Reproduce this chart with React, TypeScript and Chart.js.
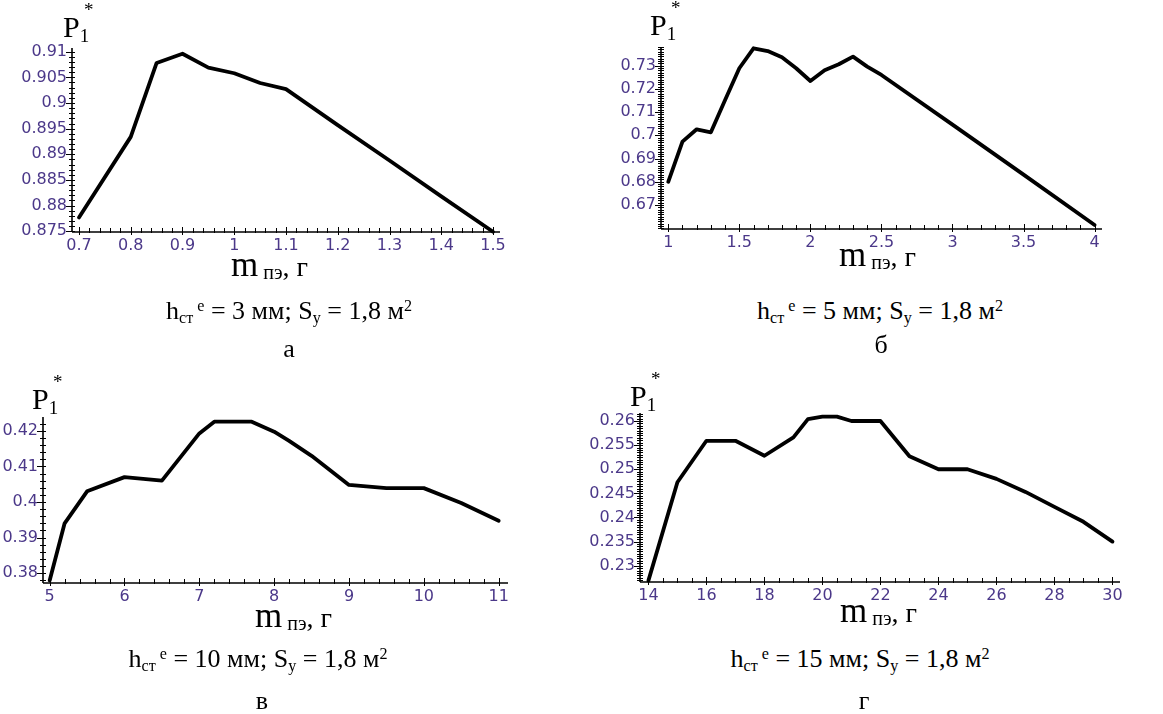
import React, { useEffect, useRef } from "react";
import { Chart, registerables } from "chart.js";

Chart.register(...registerables);

// ---------------- data ----------------
// panel а : h = 3 мм
const massA = [0.7, 0.8, 0.85, 0.9, 0.95, 1.0, 1.05, 1.1, 1.2, 1.3, 1.4, 1.5];
const probA = [0.8777, 0.8934, 0.9078, 0.9096, 0.9069, 0.9058, 0.9039, 0.9027, 0.8957, 0.8888, 0.8818, 0.8749];
const xTicksA = [0.7, 0.8, 0.9, 1, 1.1, 1.2, 1.3, 1.4, 1.5];
const yTicksA = [0.875, 0.88, 0.885, 0.89, 0.895, 0.9, 0.905, 0.91];

// panel б : h = 5 мм
const massB = [1.0, 1.1, 1.2, 1.3, 1.4, 1.5, 1.6, 1.7, 1.8, 1.9, 2.0, 2.1, 2.2, 2.3, 2.4, 2.5, 3.0, 3.5, 4.0];
const probB = [0.680, 0.6973, 0.7026, 0.7013, 0.7152, 0.7289, 0.7375, 0.7363, 0.7336, 0.7289, 0.7234, 0.728, 0.7306, 0.7339, 0.7296, 0.726, 0.7046, 0.6831, 0.6614];
const xTicksB = [1, 1.5, 2, 2.5, 3, 3.5, 4];
const yTicksB = [0.67, 0.68, 0.69, 0.7, 0.71, 0.72, 0.73];

// panel в : h = 10 мм
const massC = [5.0, 5.2, 5.5, 6.0, 6.5, 7.0, 7.2, 7.5, 7.7, 8.0, 8.2, 8.5, 9.0, 9.5, 10.0, 10.5, 11.0];
const probC = [0.3779, 0.394, 0.403, 0.407, 0.406, 0.4193, 0.4226, 0.4226, 0.4226, 0.4198, 0.4172, 0.413, 0.4048, 0.4039, 0.4039, 0.3997, 0.3947];
const xTicksC = [5, 6, 7, 8, 9, 10, 11];
const yTicksC = [0.38, 0.39, 0.4, 0.41, 0.42];

// panel г : h = 15 мм
const massD = [14, 15, 16, 17, 18, 19, 19.5, 20, 20.5, 21, 22, 23, 24, 25, 26, 27, 28, 29, 30];
const probD = [0.2269, 0.2473, 0.2559, 0.2559, 0.2528, 0.2566, 0.2604, 0.2609, 0.2609, 0.26, 0.26, 0.2527, 0.25, 0.25, 0.248, 0.2453, 0.2422, 0.2391, 0.235];
const xTicksD = [14, 16, 18, 20, 22, 24, 26, 28, 30];
const yTicksD = [0.23, 0.235, 0.24, 0.245, 0.25, 0.255, 0.26];

const thicknessLabels = ["3", "5", "10", "15"];
const panelLetters = ["а", "б", "в", "г"];

// ---------------- layout / style ----------------
const SERIF = '"Liberation Serif", "Times New Roman", serif';
const TICK_COLOR = "#4b3889";

type Spec = {
  xs: number[]; ys: number[];
  xTicks: number[]; yTicks: number[];
  xMinor: number; yMinor: number;
  xMin: number; xMax: number; yMin: number; yMax: number;
  box: { x: number; y: number; w: number; h: number };
  area: { l: number; t: number; r: number; b: number };
};

const specs: Spec[] = [
  {
    xs: massA, ys: probA, xTicks: xTicksA, yTicks: yTicksA, xMinor: 0.02, yMinor: 0.001,
    xMin: 0.6865, xMax: 1.5135, yMin: 0.87486, yMax: 0.91072,
    box: { x: 0, y: 0, w: 560, h: 270 }, area: { l: 72, t: 48, r: 500, b: 232 },
  },
  {
    xs: massB, ys: probB, xTicks: xTicksB, yTicks: yTicksB, xMinor: 0.1, yMinor: 0.001,
    xMin: 0.949, xMax: 4.052, yMin: 0.65966, yMax: 0.73805,
    box: { x: 590, y: 0, w: 573, h: 270 }, area: { l: 661, t: 47, r: 1102, b: 229 },
  },
  {
    xs: massC, ys: probC, xTicks: xTicksC, yTicks: yTicksC, xMinor: 0.2, yMinor: 0.002,
    xMin: 4.911, xMax: 11.125, yMin: 0.37719, yMax: 0.42393,
    box: { x: 0, y: 370, w: 560, h: 250 }, area: { l: 43, t: 417, r: 508, b: 583 },
  },
  {
    xs: massD, ys: probD, xTicks: xTicksD, yTicks: yTicksD, xMinor: 0.5, yMinor: 0.0005,
    xMin: 13.71, xMax: 30.26, yMin: 0.22662, yMax: 0.26166,
    box: { x: 590, y: 370, w: 573, h: 250 }, area: { l: 640, t: 413, r: 1120, b: 582 },
  },
];

function minorValues(min: number, max: number, step: number): number[] {
  const out: number[] = [];
  const k0 = Math.ceil(min / step - 1e-9);
  const k1 = Math.floor(max / step + 1e-9);
  for (let k = k0; k <= k1; k++) out.push(k * step);
  return out;
}

function isMajor(v: number, majors: number[]): boolean {
  return majors.some((m) => Math.abs(m - v) < 1e-7);
}

const mapleAxes = {
  id: "mapleAxes",
  beforeDatasetsDraw(chart: any, _args: any, opts: any) {
    const { ctx, chartArea } = chart;
    const { left, right, top, bottom } = chartArea;
    const x = chart.scales.x;
    const y = chart.scales.y;
    ctx.save();
    ctx.strokeStyle = "#000";
    ctx.lineWidth = 1.6;
    ctx.beginPath();
    ctx.moveTo(left, bottom);
    ctx.lineTo(right, bottom);
    ctx.moveTo(left, top);
    ctx.lineTo(left, bottom);
    ctx.stroke();
    ctx.lineWidth = 1;
    ctx.beginPath();
    for (const v of minorValues(x.min, x.max, opts.xMinor)) {
      const px = Math.round(x.getPixelForValue(v)) + 0.5;
      const maj = isMajor(v, opts.xTicks);
      ctx.moveTo(px, bottom - (maj ? 5 : 4));
      ctx.lineTo(px, bottom + (maj ? 3 : 1));
    }
    for (const v of minorValues(y.min, y.max, opts.yMinor)) {
      const py = Math.round(y.getPixelForValue(v)) + 0.5;
      const maj = isMajor(v, opts.yTicks);
      ctx.moveTo(left - (maj ? 6 : 3), py);
      ctx.lineTo(left + 3, py);
    }
    ctx.stroke();
    ctx.restore();
  },
};

function PanelChart({ s }: { s: Spec }) {
  const ref = useRef<HTMLCanvasElement>(null);
  useEffect(() => {
    const yW = s.area.l - s.box.x;
    const padTop = s.area.t - s.box.y;
    const padRight = s.box.x + s.box.w - s.area.r;
    const xH = s.box.y + s.box.h - s.area.b;
    const tickFont = { family: '"DejaVu Sans", sans-serif', size: 16 };
    const chart = new Chart(ref.current as HTMLCanvasElement, {
      type: "line",
      data: {
        datasets: [
          {
            data: s.xs.map((v, i) => ({ x: v, y: s.ys[i] })),
            borderColor: "#000",
            borderWidth: 3.8,
            borderJoinStyle: "round",
            borderCapStyle: "round",
            pointRadius: 0,
            tension: 0,
            fill: false,
            clip: 6,
          } as any,
        ],
      },
      options: {
        animation: false,
        responsive: false,
        devicePixelRatio: 1,
        layout: { padding: { left: 0, top: padTop, right: padRight, bottom: 0 } },
        plugins: {
          legend: { display: false },
          tooltip: { enabled: false },
          mapleAxes: { xMinor: s.xMinor, yMinor: s.yMinor, xTicks: s.xTicks, yTicks: s.yTicks },
        } as any,
        scales: {
          x: {
            type: "linear",
            min: s.xMin,
            max: s.xMax,
            grid: { display: false, drawTicks: false },
            border: { display: false },
            ticks: {
              color: TICK_COLOR,
              font: tickFont,
              padding: 4,
              autoSkip: false,
              maxRotation: 0,
              callback: (v: any) => String(+Number(v).toFixed(4)),
            },
            afterBuildTicks: (sc: any) => {
              sc.ticks = s.xTicks.map((v) => ({ value: v }));
            },
            afterFit: (sc: any) => {
              sc.height = xH;
            },
          },
          y: {
            type: "linear",
            min: s.yMin,
            max: s.yMax,
            grid: { display: false, drawTicks: false },
            border: { display: false },
            ticks: {
              color: TICK_COLOR,
              font: tickFont,
              padding: 5,
              autoSkip: false,
              callback: (v: any) => String(+Number(v).toFixed(4)),
            },
            afterBuildTicks: (sc: any) => {
              sc.ticks = s.yTicks.map((v) => ({ value: v }));
            },
            afterFit: (sc: any) => {
              sc.width = yW;
            },
          },
        },
      },
      plugins: [mapleAxes as any],
    });
    return () => chart.destroy();
  }, []);
  return (
    <canvas
      ref={ref}
      width={s.box.w}
      height={s.box.h}
      style={{ position: "absolute", left: s.box.x, top: s.box.y, width: s.box.w, height: s.box.h }}
    />
  );
}

// top of a line box so that its baseline lands on `baseline`
function topFor(baseline: number, size: number, lh: number) {
  return baseline - ((lh - 1.107 * size) / 2 + 0.891 * size);
}

const subStyle: React.CSSProperties = { fontSize: "0.62em", position: "relative", top: "0.22em", lineHeight: 0 };
const supStyle: React.CSSProperties = { fontSize: "0.62em", position: "relative", top: "-0.48em", lineHeight: 0 };

function PLabel({ x, baseline }: { x: number; baseline: number }) {
  return (
    <div style={{ position: "absolute", left: x, top: topFor(baseline, 30, 34), fontFamily: SERIF, fontSize: 30, lineHeight: "34px", whiteSpace: "nowrap" }}>
      P
      <span style={{ fontSize: 19, position: "relative", top: 5, lineHeight: 0 }}>1</span>
      <span style={{ position: "absolute", left: 21, top: -10, fontSize: 19, lineHeight: "19px" }}>*</span>
    </div>
  );
}

function XTitle({ x, baseline }: { x: number; baseline: number }) {
  return (
    <div style={{ position: "absolute", left: x, top: topFor(baseline, 35, 40), fontFamily: SERIF, fontSize: 35, lineHeight: "40px", whiteSpace: "nowrap" }}>
      m
      <span style={{ fontSize: 20, position: "relative", top: 3, lineHeight: 0 }}> пэ</span>
      <span style={{ fontSize: 28, lineHeight: 0 }}>, г</span>
    </div>
  );
}

function Caption({ cx, baseline, h }: { cx: number; baseline: number; h: string }) {
  return (
    <div style={{ position: "absolute", left: cx, top: topFor(baseline, 26, 30), transform: "translateX(-50%)", fontFamily: SERIF, fontSize: 26, lineHeight: "30px", whiteSpace: "nowrap" }}>
      h<span style={subStyle}>ст</span>
      <span style={supStyle}>&nbsp;e</span> = {h} мм; S<span style={subStyle}>у</span> = 1,8 м<span style={supStyle}>2</span>
    </div>
  );
}

function Letter({ cx, baseline, t }: { cx: number; baseline: number; t: string }) {
  return (
    <div style={{ position: "absolute", left: cx, top: topFor(baseline, 26, 30), transform: "translateX(-50%)", fontFamily: SERIF, fontSize: 26, lineHeight: "30px" }}>
      {t}
    </div>
  );
}

const pPos = [
  { x: 63, b: 37 },
  { x: 650, b: 35 },
  { x: 32, b: 409 },
  { x: 630, b: 406 },
];
const titlePos = [
  { x: 231, b: 277 },
  { x: 839, b: 267 },
  { x: 255, b: 628 },
  { x: 840, b: 623 },
];
const capPos = [
  { cx: 289, b: 320, lx: 289, lb: 358 },
  { cx: 880, b: 320, lx: 881, lb: 354 },
  { cx: 258, b: 668, lx: 262, lb: 710 },
  { cx: 860, b: 668, lx: 864, lb: 710 },
];

export default function App() {
  return (
    <div style={{ position: "absolute", left: 0, top: 0, width: 1163, height: 714, background: "#fff", overflow: "hidden" }}>
      {specs.map((s, i) => (
        <PanelChart key={"c" + i} s={s} />
      ))}
      {pPos.map((p, i) => (
        <PLabel key={"p" + i} x={p.x} baseline={p.b} />
      ))}
      {titlePos.map((p, i) => (
        <XTitle key={"t" + i} x={p.x} baseline={p.b} />
      ))}
      {capPos.map((p, i) => (
        <React.Fragment key={"k" + i}>
          <Caption cx={p.cx} baseline={p.b} h={thicknessLabels[i]} />
          <Letter cx={p.lx} baseline={p.lb} t={panelLetters[i]} />
        </React.Fragment>
      ))}
    </div>
  );
}
